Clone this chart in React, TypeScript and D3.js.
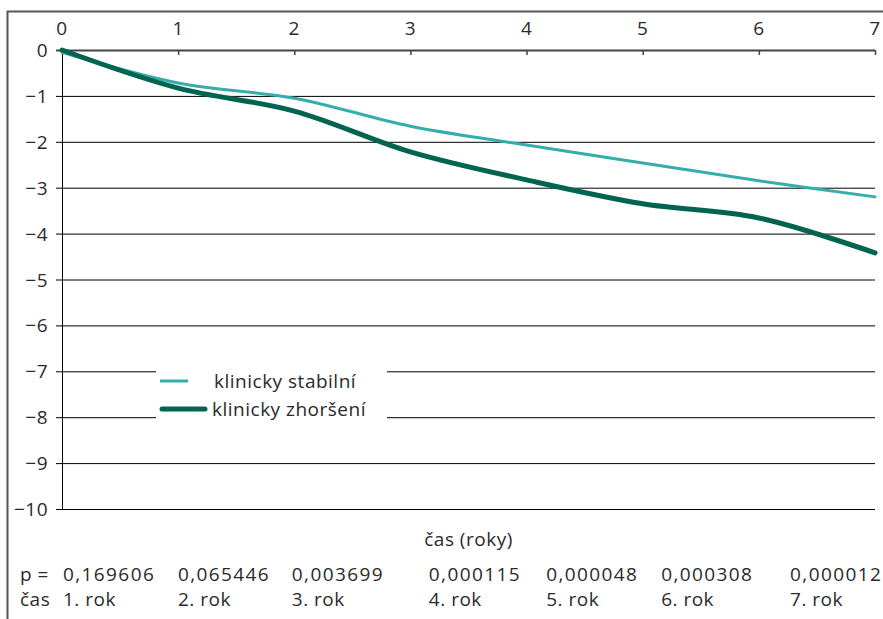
import React from "react";
import * as d3 from "d3";

const years = [0, 1, 2, 3, 4, 5, 6, 7];
const stabilni = [-0.05, -0.72, -1.05, -1.66, -2.07, -2.46, -2.85, -3.2];
const zhorseni = [0, -0.83, -1.33, -2.22, -2.83, -3.35, -3.66, -4.42];
const yTicks = [0, -1, -2, -3, -4, -5, -6, -7, -8, -9, -10];
const pValues = ["0,169606", "0,065446", "0,003699", "0,000115", "0,000048", "0,000308", "0,000012"];
const rokLabels = ["1. rok", "2. rok", "3. rok", "4. rok", "5. rok", "6. rok", "7. rok"];
const colPos = [0, 0.99, 1.97, 3.15, 4.16, 5.15, 6.26];

const W = 883;
const H = 619;
const FONT = "'Open Sans', 'Noto Sans', sans-serif";

export default function App() {
  const x = d3.scaleLinear().domain([0, 7]).range([62, 875]);
  const y = d3.scaleLinear().domain([0, -10]).range([50, 509]);
  const line = d3
    .line<number>()
    .x((_, i) => x(years[i]))
    .y((d) => y(d))
    .curve(d3.curveCatmullRom.alpha(0.5));

  const numStyle: React.CSSProperties = { fontFamily: FONT, fontSize: 19, letterSpacing: 1.4 };
  const textStyle: React.CSSProperties = { fontFamily: FONT, fontSize: 19, letterSpacing: 0.5 };
  const ink = "#2a2a2a";

  return (
    <svg width={W} height={H} style={{ position: "absolute", left: 0, top: 0, background: "#fff" }}>
      <rect x={0} y={0} width={W} height={H} fill="#fff" />
      {/* outer frame */}
      <rect x={7.5} y={11.5} width={W + 20} height={H + 20} fill="none" stroke="#555" strokeWidth={2} />

      {/* gridlines */}
      {yTicks.map((t) => (
        <line key={t} x1={x(0) - 6} x2={x(7)} y1={y(t) + 0.5} y2={y(t) + 0.5}
          stroke={t === 0 ? "#444" : "#000"} strokeWidth={t === 0 ? 2 : 1} />
      ))}
      {/* left axis */}
      <line x1={x(0) + 0.5} x2={x(0) + 0.5} y1={y(0)} y2={y(-10)} stroke="#000" strokeWidth={1} />
      {/* top axis ticks */}
      {years.map((t) => (
        <line key={t} x1={x(t) + 0.5} x2={x(t) + 0.5} y1={y(0)} y2={y(0) + 5} stroke="#444" strokeWidth={1.5} />
      ))}

      {/* top axis labels */}
      {years.map((t) => (
        <text key={t} x={x(t)} y={35} textAnchor="middle" style={textStyle} fill={ink}>{t}</text>
      ))}
      {/* y axis labels */}
      {yTicks.map((t) => (
        <text key={t} x={48} y={y(t) + 7} textAnchor="end" style={textStyle} fill={ink}>
          {t === 0 ? "0" : "\u2212" + Math.abs(t)}
        </text>
      ))}

      {/* series */}
      <path d={line(stabilni) || ""} fill="none" stroke="#35adab" strokeWidth={3} strokeLinecap="round" />
      <path d={line(zhorseni) || ""} fill="none" stroke="#006451" strokeWidth={5} strokeLinecap="round" />

      {/* legend */}
      <rect x={156} y={362} width={231} height={62} fill="#fff" />
      <line x1={160} x2={188} y1={381} y2={381} stroke="#35adab" strokeWidth={3} />
      <line x1={162} x2={205} y1={409} y2={409} stroke="#006451" strokeWidth={5} strokeLinecap="round" />
      <text x={214} y={388} style={textStyle} fill={ink}>klinicky stabilní</text>
      <text x={212} y={416} style={textStyle} fill={ink}>klinicky zhoršení</text>

      {/* x axis title */}
      <text x={(x(0) + x(7)) / 2} y={546} textAnchor="middle" style={textStyle} fill={ink}>čas (roky)</text>

      {/* table */}
      <text x={20} y={581} style={textStyle} fill={ink}>p =</text>
      <text x={20} y={606} style={textStyle} fill={ink}>čas</text>
      {pValues.map((p, i) => (
        <text key={p} x={x(colPos[i]) + 1} y={581} style={numStyle} fill={ink}>{p}</text>
      ))}
      {rokLabels.map((r, i) => (
        <text key={r} x={x(colPos[i]) + 1} y={606} style={textStyle} fill={ink}>{r}</text>
      ))}
    </svg>
  );
}
